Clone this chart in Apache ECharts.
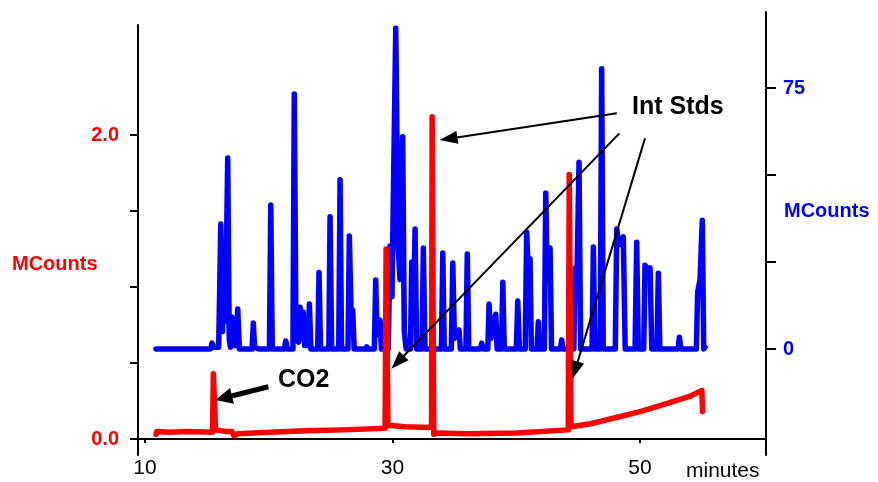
<!DOCTYPE html>
<html>
<head>
    <meta charset="utf-8">
    <title>Chromatogram</title>
    <script src="https://cdn.jsdelivr.net/npm/echarts@6/dist/echarts.min.js"></script>
    <style>
        html, body {margin:0;padding:0;background:#fff}
        #chart {width:878px;height:482px}
    </style>
</head>
<body>
<div id="chart"></div>
<script>
    // axis ticks
    var xTicks = [10, 30, 50];
    var leftTicks = [0, 0.5, 1.0, 1.5, 2.0];
    var leftLabels = [0, 2.0];
    var rightTicks = [0, 25, 50, 75];
    var rightLabels = [0, 75];

    // blue trace (right axis, MCounts) : [minutes, value]
    var blueTrace = [
        [10.89,0],[15.30,0],[15.41,1.7],[15.55,0.5],
        [15.95,0.5],[16.12,35.9],[16.25,5],[16.40,31],[16.50,8],[16.68,54.9],[16.80,3],[16.90,0.5],
        [17.01,9.2],[17.10,1],[17.35,1],[17.49,11.5],[17.62,0],
        [18.65,0],[18.75,7.5],[18.85,0.5],[19.00,1],[19.20,0],
        [20.05,0],[20.16,41.4],[20.28,0],
        [21.25,0],[21.37,2.3],[21.48,0],
        [21.95,0],[22.06,73.3],[22.20,3],[22.40,2],[22.53,12],[22.65,3],[22.79,10.6],[22.90,1],
        [23.18,1],[23.28,12.9],[23.40,0],
        [23.95,0],[24.06,22],[24.18,0],
        [24.85,0],[24.95,38],[25.08,0],
        [25.65,0],[25.76,48.6],[25.88,0],
        [26.40,0],[26.51,32.5],[26.65,10],[26.78,11.2],[26.90,0],
        [27.82,0],[27.92,0.6],[28.02,0],
        [28.53,0],[28.64,19.8],[28.75,4],[28.99,8.3],[29.10,0],
        [29.65,0],[29.80,29.6],[29.95,15],[30.26,92.2],[30.45,30],[30.60,20],[30.82,61],[30.95,5],[31.10,0],
        [31.45,0],[31.55,25],[31.68,8],[31.82,34.5],[31.95,0],
        [32.38,0],[32.49,29],[32.62,0],
        [33.95,0],[34.06,27.6],[34.18,0],
        [34.75,0],[34.87,24.7],[35.00,3],[35.37,5.5],[35.48,0],
        [35.93,0],[36.04,27.3],[36.16,0],
        [37.10,0],[37.21,1.7],[37.32,0],
        [37.70,0],[37.80,12.9],[37.95,3],[38.34,10],[38.45,0],
        [38.80,0],[38.91,19.2],[39.03,0],
        [40.00,0],[40.12,13.8],[40.25,0],
        [40.72,0],[40.84,33.6],[40.95,24],[41.11,26],[41.22,0],
        [41.68,0],[41.78,7.8],[41.90,0],
        [42.27,0],[42.38,44.8],[42.50,20],[42.73,29],[42.85,0],
        [43.57,0],[43.67,2.6],[43.78,0],
        [44.65,0],[44.75,23.3],[44.90,20],[45.07,53.7],[45.20,0],
        [46.12,0],[46.23,29.3],[46.35,0],
        [46.78,0],[46.90,80.5],[47.03,0],
        [48.00,0],[48.12,34.5],[48.30,30],[48.45,31],[48.65,32.2],[48.80,0],
        [49.60,0],[49.73,30.7],[49.86,0],
        [50.30,0],[50.40,24.1],[50.60,23],[50.81,23.3],[50.95,0],
        [51.37,0],[51.48,21.8],[51.60,0],
        [53.07,0],[53.18,3.4],[53.30,0],
        [54.55,0],[54.66,16.4],[54.85,20],[55.03,37],[55.15,0],[55.25,0.5]
    ];

    // red trace (left axis, MCounts) : [minutes, value]
    var redTrace = [
        [10.89,0.03],[10.95,0.05],[12.0,0.045],[13.5,0.05],[15.45,0.045],[15.52,0.43],[15.62,0.43],
        [15.70,0.06],[16.5,0.05],[17.0,0.05],[17.2,0.02],[17.5,0.035],[20.0,0.045],[23.0,0.055],
        [26.0,0.06],[29.40,0.07],[29.48,1.25],[29.56,1.25],[29.63,0.09],[31.0,0.08],[33.15,0.075],
        [33.20,2.12],[33.28,2.12],[33.33,0.03],[33.6,0.04],[36.0,0.035],[40.0,0.04],[44.20,0.06],
        [44.28,1.74],[44.36,1.74],[44.42,0.08],[46.0,0.10],[48.0,0.14],[50.0,0.18],[52.0,0.23],
        [54.0,0.28],[55.0,0.32],[55.05,0.18]
    ];

    // annotation arrows in red-axis coordinates: [from, arrowhead centre]
    var co2Arrow = [[19.96, 0.344], [16.36, 0.27]];
    var stdArrows = [
        [[48.12, 2.143], [34.52, 1.976]],
        [[48.33, 2.011], [30.41, 0.505]],
        [[50.40, 1.978], [44.76, 0.453]]
    ];

    var FONT = '"Liberation Sans", Arial, sans-serif';
    var chart = echarts.init(document.getElementById('chart'), null, {renderer: 'canvas'});

    function arrowLine(pair, width, size) {
        return [
            {coord: pair[0], symbol: 'none'},
            {coord: pair[1], symbol: 'triangle', symbolSize: size,
             lineStyle: {color: '#000', width: width, type: 'solid'}}
        ];
    }

    var markData = [arrowLine(co2Arrow, 5, [16, 17])];
    stdArrows.forEach(function (p) { markData.push(arrowLine(p, 2, [13, 18])); });

    var option = {
        animation: false,
        backgroundColor: '#fff',
        grid: [
            {left: 138, right: 112, top: 25, bottom: 27},
            {left: 138, right: 112, top: 12, bottom: 27}
        ],
        xAxis: [{
            type: 'value', gridIndex: 0, min: 9.43, max: 60.18,
            axisLine: {lineStyle: {color: '#000', width: 2}},
            axisTick: {customValues: xTicks, length: 4, lineStyle: {color: '#000', width: 2}},
            axisLabel: {customValues: xTicks, margin: 3, color: '#000', fontSize: 21, fontFamily: FONT},
            splitLine: {show: false}
        }, {
            type: 'value', gridIndex: 1, min: 9.43, max: 60.18, show: false
        }],
        yAxis: [{
            type: 'value', gridIndex: 0, position: 'left', min: -0.1053, max: 2.7237,
            axisLine: {show: true, lineStyle: {color: '#000', width: 2}},
            axisTick: {show: true, customValues: leftTicks, length: 8, lineStyle: {color: '#000', width: 2}},
            axisLabel: {customValues: leftLabels, margin: 19, color: '#ff0000', fontSize: 20,
                fontWeight: 'bold', fontFamily: FONT,
                formatter: function (v) { return v.toFixed(1); }},
            splitLine: {show: false}
        }, {
            type: 'value', gridIndex: 1, position: 'right', min: -30.46, max: 96.84,
            axisLine: {show: true, lineStyle: {color: '#000', width: 2}},
            axisTick: {show: true, customValues: rightTicks, length: 10, lineStyle: {color: '#000', width: 2}},
            axisLabel: {customValues: rightLabels, margin: 17, color: '#0000ff', fontSize: 20,
                fontWeight: 'bold', fontFamily: FONT},
            splitLine: {show: false}
        }],
        series: [{
            name: 'blue', type: 'line', xAxisIndex: 1, yAxisIndex: 1,
            data: blueTrace, showSymbol: false, symbol: 'none',
            lineStyle: {color: '#0000ff', width: 5.5, cap: 'round', join: 'round'}
        }, {
            name: 'red', type: 'line', xAxisIndex: 0, yAxisIndex: 0,
            data: redTrace, showSymbol: false, symbol: 'none',
            lineStyle: {color: '#ff0000', width: 5.5, cap: 'round', join: 'round'},
            markLine: {
                silent: true, animation: false,
                label: {show: false},
                emphasis: {disabled: true},
                lineStyle: {color: '#000', type: 'solid'},
                data: markData
            }
        }],
        graphic: [
            {type: 'text', x: 12, y: 264, style: {text: 'MCounts', fill: '#ff0000', font: 'bold 20px ' + FONT, verticalAlign: 'middle'}},
            {type: 'text', x: 784, y: 211, style: {text: 'MCounts', fill: '#0000ff', font: 'bold 20px ' + FONT, verticalAlign: 'middle'}},
            {type: 'text', x: 278, y: 380, style: {text: 'CO2', fill: '#000', font: 'bold 25px ' + FONT, verticalAlign: 'middle'}},
            {type: 'text', x: 632, y: 107, style: {text: 'Int Stds', fill: '#000', font: 'bold 25px ' + FONT, verticalAlign: 'middle'}},
            {type: 'text', x: 686, y: 471, style: {text: 'minutes', fill: '#000', font: '21px ' + FONT, verticalAlign: 'middle'}}
        ]
    };
    chart.setOption(option);
</script>
</body>
</html>
